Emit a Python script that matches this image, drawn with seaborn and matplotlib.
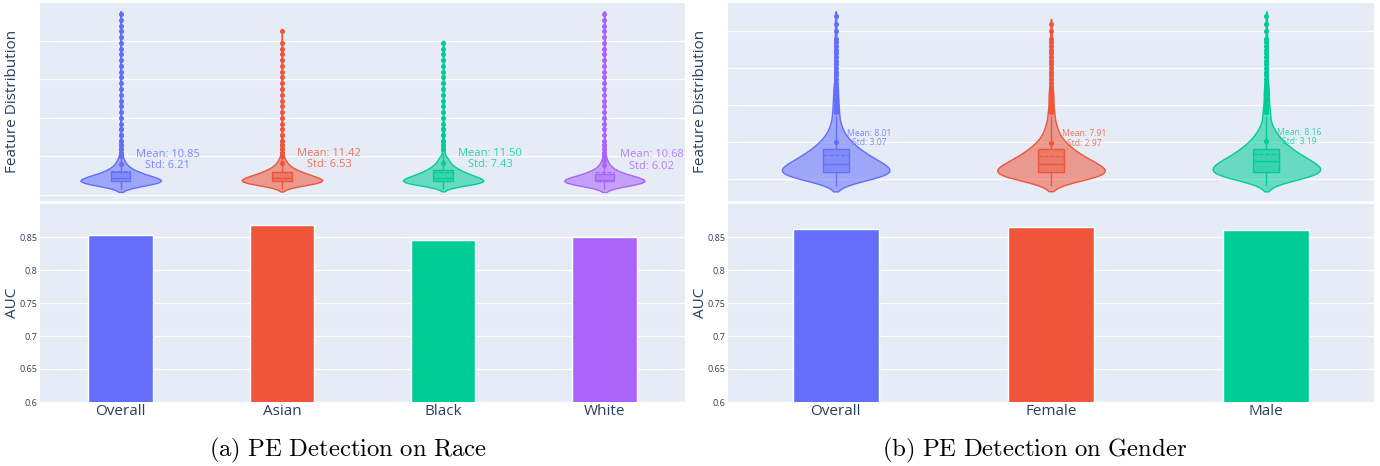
import numpy as np
import pandas as pd
import matplotlib
matplotlib.use("Agg")
import matplotlib.pyplot as plt
from matplotlib.colors import to_rgba
import seaborn as sns

# categories
race_groups = ["Overall", "Asian", "Black", "White"]
gender_groups = ["Overall", "Female", "Male"]

# AUC per group (bottom row)
race_auc = [0.853, 0.868, 0.845, 0.850]
gender_auc = [0.862, 0.865, 0.860]

# stats written next to the violins
race_mean = [10.85, 11.42, 11.50, 10.68]
race_std = [6.21, 6.53, 7.43, 6.02]
gender_mean = [8.01, 7.91, 8.16]
gender_std = [3.07, 2.97, 3.19]

# feature values (binned) and number of samples per bin
race_bins = [3, 4, 5, 6, 7, 8, 9, 10, 11, 12, 13, 14, 15, 16, 17, 18, 19, 20,
             22, 24, 26, 28, 31, 34, 37, 40, 43, 46, 49, 52, 55, 58, 61, 64,
             67, 70, 73, 76, 79, 82, 85, 88, 91, 94]
race_overall_n = [4, 12, 28, 45, 52, 48, 40, 32, 25, 19, 14, 11, 8, 6, 5, 4, 3, 3,
                  2, 2, 2, 2, 2, 2, 1, 1, 1, 1, 1, 1, 1, 1, 1, 1,
                  1, 1, 1, 1, 1, 1, 1, 1, 1, 1]
race_asian_n = [3, 10, 24, 40, 48, 46, 40, 33, 27, 21, 16, 12, 9, 7, 5, 4, 3, 3,
                2, 2, 2, 2, 2, 1, 1, 1, 1, 1, 1, 1, 1, 1, 1, 1,
                1, 1, 1, 1, 1, 0, 1, 0, 0, 0]
race_black_n = [3, 10, 25, 40, 47, 44, 38, 32, 27, 22, 18, 14, 11, 9, 7, 6, 5, 4,
                3, 3, 2, 2, 2, 2, 1, 1, 1, 1, 1, 1, 1, 1, 1, 1,
                1, 1, 1, 1, 1, 0, 0, 0, 0, 0]
race_white_n = [4, 13, 30, 48, 54, 48, 40, 31, 23, 17, 12, 9, 7, 5, 4, 3, 3, 2,
                2, 2, 2, 1, 1, 1, 1, 1, 1, 1, 1, 1, 1, 1, 1, 1,
                1, 1, 1, 1, 1, 1, 1, 1, 1, 1]

gender_bins = [4.0, 4.5, 5.0, 5.5, 6.0, 6.5, 7.0, 7.5, 8.0, 8.5, 9.0, 9.5,
               10.0, 10.5, 11.0, 11.5, 12.0, 12.5, 13.0, 13.5,
               14.0, 14.5, 15.0, 15.5, 16.0, 16.5, 17.0, 17.5, 18.0, 18.5, 19.0,
               19.5, 20.0, 20.5, 21.0, 21.5, 22.0, 22.5, 23.0, 23.5, 24.0,
               25.0, 26.0, 27.0]
gender_overall_n = [4, 12, 30, 45, 48, 44, 40, 34, 29, 24, 20, 16, 13, 10, 8, 6, 5, 4, 3, 3,
                    3, 2, 3, 2, 2, 2, 2, 2, 1, 1, 1, 1, 1, 1, 1, 1, 1, 1, 1, 1, 1,
                    1, 1, 1]
gender_female_n = [4, 13, 32, 47, 49, 45, 40, 34, 28, 23, 19, 15, 12, 9, 7, 6, 5, 4, 3, 3,
                   3, 2, 2, 2, 2, 2, 2, 1, 1, 1, 1, 1, 1, 1, 1, 1, 1, 1, 1, 1, 1,
                   1, 1, 0]
gender_male_n = [3, 10, 27, 42, 46, 44, 41, 35, 30, 25, 21, 17, 14, 11, 9, 7, 5, 4, 3, 3,
                 3, 3, 2, 2, 2, 2, 2, 2, 1, 1, 1, 1, 1, 1, 1, 1, 1, 1, 1, 1, 1,
                 1, 1, 1]

colors = ["#636EFA", "#EF553B", "#00CC96", "#AB63FA"]
text_color = "#2a3f5f"

sns.set_theme(style="darkgrid", rc={
    "axes.facecolor": "#E5ECF6",
    "grid.color": "white",
    "grid.linewidth": 1.0,
})
plt.rcParams["font.family"] = ["Open Sans", "DejaVu Sans"]
plt.rcParams["mathtext.fontset"] = "cm"

fig = plt.figure(figsize=(13.8, 4.66), dpi=100, facecolor="white")


def make_long(groups, bins, counts):
    return pd.DataFrame({
        "group": np.repeat(groups, [sum(c) for c in counts]),
        "value": np.concatenate([np.repeat(bins, c) for c in counts]),
    })


def violin_panel(ax, groups, df, means, stds, bw, mark_off, text_dx, text_size):
    for i, g in enumerate(groups):
        c = colors[i]
        sub = df[df["group"] == g]
        sns.violinplot(data=sub, x="group", y="value", order=groups, color=c,
                       linecolor=c, linewidth=1.0, width=0.5, inner=None, cut=1,
                       bw_adjust=bw, density_norm="width", saturation=1, ax=ax)
        ax.collections[-1].set_facecolor(to_rgba(c, 0.55))
        sns.boxplot(data=sub, x="group", y="value", order=groups, color=c,
                    linecolor=c, linewidth=1.0, width=0.12, saturation=1,
                    fliersize=2.6, showmeans=True, meanline=True, showcaps=False,
                    meanprops={"color": c, "linestyle": "--", "linewidth": 0.8},
                    flierprops={"marker": "o", "markerfacecolor": c, "markeredgecolor": c},
                    ax=ax)
        ax.patches[-1].set_facecolor(to_rgba(c, 0.45))
        y = means[i] + mark_off
        ax.scatter([i], [y], s=14, color=c, zorder=6, linewidths=0)
        ax.annotate(f"Mean: {means[i]:.2f}\nStd: {stds[i]:.2f}", xy=(i, y),
                    xytext=(text_dx, 3), textcoords="offset points",
                    ha="center", va="center", color=c, alpha=0.8,
                    fontsize=text_size, linespacing=1.05)
    # scatter re-triggers autoscaling, so pin the category range again
    ax.set_xlim(-0.5, len(groups) - 0.5)
    ax.set_xlabel("")
    ax.set_xticklabels([])
    ax.set_ylabel("Feature Distribution", fontsize=11, color=text_color)
    ax.tick_params(length=0)
    ax.grid(False, axis="x")
    for s in ax.spines.values():
        s.set_visible(False)


def bar_panel(ax, groups, auc):
    sns.barplot(x=groups, y=auc, hue=groups, palette=colors[:len(groups)],
                width=0.4, saturation=1, legend=False, ax=ax)
    ax.set_xlim(-0.5, len(groups) - 0.5)
    ax.set_ylim(0.6, 0.9)
    ax.set_yticks([0.6, 0.65, 0.7, 0.75, 0.8, 0.85],
                  labels=["0.6", "0.65", "0.7", "0.75", "0.8", "0.85"])
    ax.tick_params(axis="y", labelsize=6.5, labelcolor=text_color, length=0, pad=2)
    ax.tick_params(axis="x", labelsize=11, labelcolor=text_color, length=0, pad=1.5)
    ax.set_ylabel("AUC", fontsize=11, color=text_color)
    ax.grid(False, axis="x")
    for s in ax.spines.values():
        s.set_visible(False)


W, H = 1380, 466
race_df = make_long(race_groups, race_bins,
                    [race_overall_n, race_asian_n, race_black_n, race_white_n])
gender_df = make_long(gender_groups, gender_bins,
                      [gender_overall_n, gender_female_n, gender_male_n])

panels = [
    (40, 645, race_groups, race_df, race_mean, race_std, race_auc, 0.35, 5, 34, 8,
     (-2.9, 99.7), [0, 20, 40, 60, 80], r"$\mathrm{(a)\ PE\ Detection\ on\ Race}$", 348),
    (728, 646, gender_groups, gender_df, gender_mean, gender_std, gender_auc, 0.6, 2, 24, 6.2,
     (2.1, 28.8), [5, 10, 15, 20, 25], r"$\mathrm{(b)\ PE\ Detection\ on\ Gender}$", 1035),
]

for left, width, groups, df, means, stds, auc, bw, off, dx, fs, ylim, yt, caption, cx in panels:
    ax_v = fig.add_axes([left / W, 1 - 200.5 / H, width / W, 197.5 / H])
    violin_panel(ax_v, groups, df, means, stds, bw, off, dx, fs)
    ax_v.set_ylim(*ylim)
    ax_v.set_yticks(yt)
    ax_v.set_yticklabels([])
    ax_v.yaxis.set_label_coords(-20 / width, 0.5)

    ax_b = fig.add_axes([left / W, 1 - 402 / H, width / W, 198 / H])
    bar_panel(ax_b, groups, auc)
    ax_b.yaxis.set_label_coords(-20 / width, 0.5)

    fig.text(cx / W, 1 - 450 / H, caption, ha="center", va="center",
             fontsize=17.8, color="black")

fig.savefig("out.png", dpi=100)
